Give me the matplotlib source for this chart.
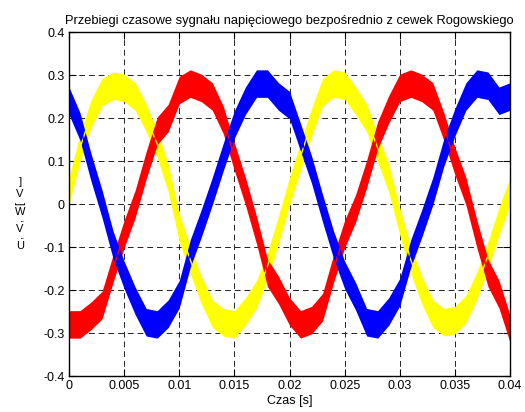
import matplotlib
matplotlib.use('Agg')
import matplotlib.pyplot as plt
import numpy as np

plt.rcParams['font.family'] = ['Liberation Sans', 'DejaVu Sans']

# czas w ms, probki co 1 ms (wartosci)
czas_ms = list(range(41))
faza_u = [0.03, 0.13, 0.21, 0.26, 0.275, 0.27, 0.25, 0.20, 0.14, 0.06,
          -0.055, -0.13, -0.20, -0.255, -0.275, -0.28, -0.25, -0.21, -0.145, -0.06,
          0.03, 0.11, 0.19, 0.26, 0.28, 0.275, 0.24, 0.20, 0.13, 0.06,
          -0.04, -0.13, -0.20, -0.255, -0.275, -0.27, -0.245, -0.19, -0.12, -0.04,
          0.03]
faza_v = [-0.28, -0.28, -0.26, -0.235, -0.15, -0.07, 0.0, 0.09, 0.17, 0.20,
          0.265, 0.28, 0.27, 0.25, 0.195, 0.11, 0.03, -0.06, -0.16, -0.20,
          -0.25, -0.28, -0.27, -0.24, -0.15, -0.07, -0.01, 0.07, 0.16, 0.22,
          0.27, 0.28, 0.27, 0.25, 0.18, 0.10, 0.03, -0.07, -0.16, -0.21,
          -0.29]
faza_w = [0.24, 0.18, 0.085, 0.0, -0.095, -0.165, -0.225, -0.275, -0.28, -0.255,
          -0.21, -0.115, -0.045, 0.03, 0.11, 0.185, 0.24, 0.28, 0.28, 0.25,
          0.23, 0.155, 0.08, -0.01, -0.095, -0.165, -0.215, -0.275, -0.28, -0.25,
          -0.205, -0.115, -0.045, 0.03, 0.12, 0.19, 0.25, 0.28, 0.275, 0.24,
          0.25]
szum = 0.032  # polowa szerokosci pasma szumu

x_ticks = [0, 0.005, 0.01, 0.015, 0.02, 0.025, 0.03, 0.035, 0.04]
x_labels = ['0', '0.005', '0.01', '0.015', '0.02', '0.025', '0.03', '0.035', '0.04']
y_ticks = [-0.4, -0.3, -0.2, -0.1, 0, 0.1, 0.2, 0.3, 0.4]
y_labels = ['-0.4', '-0.3', '-0.2', '-0.1', '0', '0.1', '0.2', '0.3', '0.4']

fig = plt.figure(figsize=(5.25, 4.12), dpi=100)
ax = fig.add_axes([69/525, 1-376/412, 441/525, 344/412])

t = np.array(czas_ms) / 1000.0
for vals, col in [(faza_u, '#ffff00'), (faza_v, '#ff0000'), (faza_w, '#0000ff')]:
    v = np.array(vals)
    ax.fill_between(t, v - szum, v + szum, color=col, lw=0)
    ax.plot(t, v, color=col, lw=1)

ax.set_xlim(0, 0.04)
ax.set_ylim(-0.4, 0.4)
ax.set_xticks(x_ticks)
ax.set_xticklabels(x_labels)
ax.set_yticks(y_ticks)
ax.set_yticklabels(y_labels)
ax.grid(True, color='#222222', ls=(0, (6, 4)), lw=0.7)
ax.set_axisbelow(True)
ax.tick_params(direction='in', top=True, right=True, length=5, labelsize=9, pad=3)
for s in ax.spines.values():
    s.set_linewidth(1)

ax.set_title('Przebiegi czasowe sygnału napięciowego bezpośrednio z cewek Rogowskiego',
             fontsize=9.3, pad=6)
ax.set_xlabel('Czas [s]', fontsize=9, labelpad=2)

# etykieta osi Y - znaki ulozone pionowo
znaki = [('U', 0, 12), (',', 90, 5), ('V', 0, 12), (',', 90, 5), ('W', 0, 12),
         ('[', 90, 6), ('V', 0, 12), (']', 0, 12)]
y_px = 252
for ch, rot, h in znaki:
    fig.text(20/525, 1 - (y_px - h/2)/412, ch, rotation=rot, fontsize=8,
             ha='center', va='center')
    y_px -= h

fig.savefig('out.png', dpi=100)
